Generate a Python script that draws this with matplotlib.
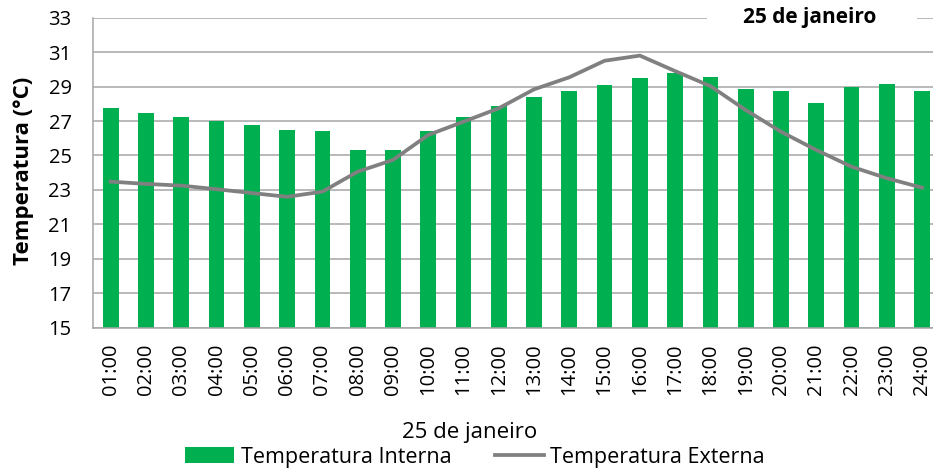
import matplotlib
matplotlib.use("Agg")
import matplotlib.pyplot as plt
from matplotlib.patches import Rectangle, Patch
from matplotlib.lines import Line2D
import numpy as np

plt.rcParams['font.family'] = ['Open Sans', 'DejaVu Sans']

hours = ["01:00", "02:00", "03:00", "04:00", "05:00", "06:00", "07:00", "08:00",
         "09:00", "10:00", "11:00", "12:00", "13:00", "14:00", "15:00", "16:00",
         "17:00", "18:00", "19:00", "20:00", "21:00", "22:00", "23:00", "24:00"]
internal = [27.75, 27.47, 27.25, 26.98, 26.77, 26.5, 26.42, 25.3,
            25.3, 26.42, 27.25, 27.9, 28.38, 28.73, 29.08, 29.5,
            29.77, 29.56, 28.86, 28.73, 28.03, 28.96, 29.13, 28.73]
external = [23.48, 23.35, 23.25, 23.04, 22.82, 22.6, 22.9, 24.06,
            24.74, 26.19, 26.96, 27.74, 28.84, 29.54, 30.5, 30.8,
            29.9, 29.03, 27.64, 26.38, 25.32, 24.35, 23.68, 23.13]
yticks = [15, 17, 19, 21, 23, 25, 27, 29, 31, 33]

GREEN = '#00B050'
GREY = '#808080'

W, H = 933, 473
fig = plt.figure(figsize=(W / 100, H / 100), dpi=100)
ax = fig.add_axes([93.1 / W, 1 - 327.7 / H, (939.7 - 93.1) / W, (327.7 - 17.7) / H])

x = np.arange(len(hours))
ax.bar(x, internal, width=0.445, color=GREEN, zorder=2)
ax.plot(x, external, color=GREY, lw=2.7, zorder=3)

ax.set_ylim(15, 33)
ax.set_xlim(-0.5, len(hours) - 0.5)
ax.set_yticks(yticks)
ax.set_yticklabels([str(v) for v in yticks], fontsize=14.5)
ax.set_xticks(x)
ax.set_xticklabels(hours, rotation=90, fontsize=14.5)
ax.tick_params(axis='y', length=0, pad=15.5)
ax.tick_params(axis='x', length=0, pad=11.5)
ax.grid(axis='y', color='#A6A6A6', lw=1.1, zorder=0)
ax.set_axisbelow(True)
for s in ['top', 'right']:
    ax.spines[s].set_visible(False)
for s in ['left', 'bottom']:
    ax.spines[s].set_color('#A6A6A6')
    ax.spines[s].set_linewidth(1.1)

fig.text(24 / W, 1 - 171 / H, 'Temperatura (°C)', rotation=90, fontsize=16,
         fontweight='bold', ha='center', va='center')

fig.patches.append(Rectangle((707 / W, 1 - 29 / H), 210 / W, 21 / H,
                             transform=fig.transFigure, facecolor='white',
                             edgecolor='none', zorder=5))
fig.text(810 / W, 1 - 18 / H, '25 de janeiro', fontsize=15, fontweight='bold',
         ha='center', va='center', zorder=6)

fig.text(470 / W, 1 - 432 / H, '25 de janeiro', fontsize=16, ha='center', va='center')

handles = [Patch(facecolor=GREEN, edgecolor='none'),
           Line2D([0], [0], color=GREY, lw=2.7)]
labels = ['Temperatura Interna', 'Temperatura Externa']
fig.legend(handles, labels, loc='center', bbox_to_anchor=(475 / W, 1 - 457 / H), ncol=2,
           frameon=False, fontsize=15.5, handlelength=2.3, handleheight=0.7,
           handletextpad=0.3, columnspacing=2.0, borderpad=0, borderaxespad=0)

fig.savefig('out.png', dpi=100)
